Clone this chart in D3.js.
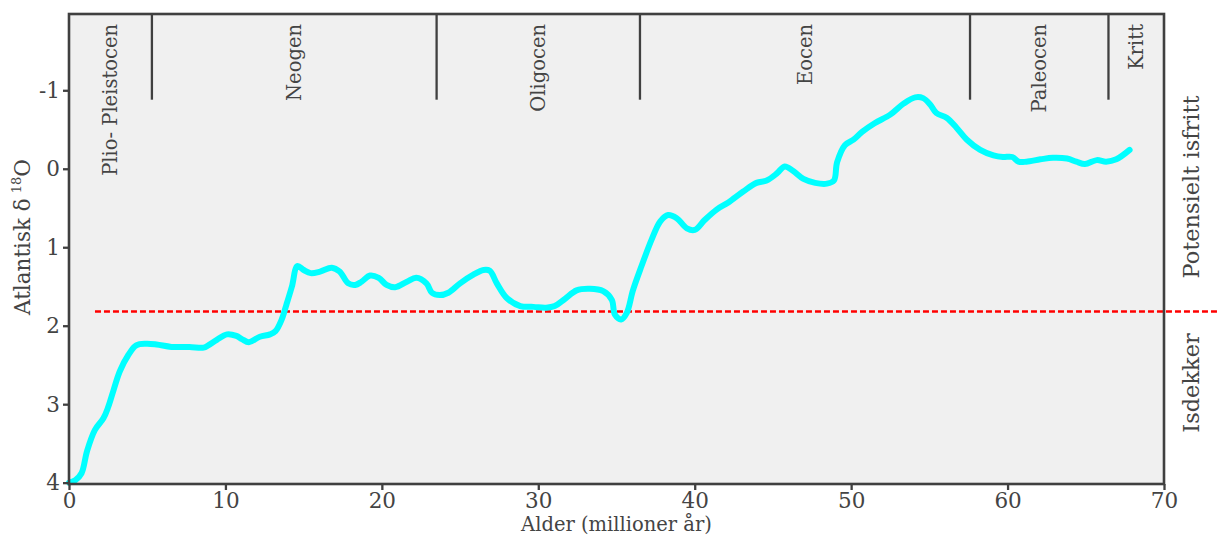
<!DOCTYPE html>
<html>
<head>
<meta charset="utf-8">
<script src="https://cdn.jsdelivr.net/npm/d3@7"></script>
<style>
  html, body { margin: 0; padding: 0; background: #ffffff; }
  svg { display: block; }
  text { font-family: "DejaVu Serif", "Liberation Serif", serif; fill: #444444; }
</style>
</head>
<body>
<svg id="chart" width="1219" height="536"></svg>
<script>
// Atlantic benthic δ18O record over the last ~68 million years
const ages = [0, 0.4, 0.8, 1.15, 1.65, 2.2, 2.5, 2.85, 3.25, 3.8, 4.3, 4.95, 5.6, 6.55, 7.7, 8.6, 8.9, 9.45, 10.1, 10.7,
  11.05, 11.5, 12.2, 12.85, 13.2, 13.6, 13.9, 14.25, 14.6, 15.0, 15.45, 16.05, 16.8, 17.3, 17.85, 18.3, 18.7, 19.25, 19.8, 20.3,
  20.85, 21.6, 22.2, 22.85, 23.2, 23.7, 24.25, 25.0, 25.85, 26.5, 26.9, 27.35, 28.0, 28.85, 29.7, 30.5, 31.05, 31.7, 32.45, 33.3,
  34.15, 34.7, 34.9, 35.3, 35.65, 36.05, 36.6, 37.25, 37.8, 38.3, 38.85, 39.5, 40.0, 40.65, 41.4, 42.15, 43.1, 43.95, 44.6, 45.25,
  45.75, 46.3, 46.95, 47.7, 48.45, 48.9, 49.1, 49.6, 50.15, 50.7, 51.5, 52.5, 53.35, 54.1, 54.6, 55.05, 55.45, 56.1, 56.75, 57.4,
  58.25, 59.1, 59.7, 60.3, 60.7, 61.2, 62.1, 62.9, 63.8, 64.4, 64.95, 65.7, 66.3, 66.95, 67.8];
const d18O = [4.0, 3.97, 3.88, 3.6, 3.33, 3.18, 3.04, 2.82, 2.58, 2.37, 2.25, 2.23, 2.24, 2.27, 2.27, 2.28, 2.25, 2.18, 2.11, 2.13,
  2.17, 2.21, 2.14, 2.11, 2.07, 1.92, 1.73, 1.5, 1.24, 1.29, 1.33, 1.31, 1.26, 1.31, 1.46, 1.48, 1.44, 1.36, 1.39, 1.48,
  1.51, 1.44, 1.39, 1.46, 1.58, 1.61, 1.58, 1.46, 1.35, 1.29, 1.3, 1.46, 1.65, 1.75, 1.76, 1.77, 1.75, 1.66, 1.55, 1.53,
  1.56, 1.67, 1.86, 1.92, 1.84, 1.55, 1.24, 0.9, 0.67, 0.59, 0.63, 0.76, 0.78, 0.65, 0.52, 0.43, 0.29, 0.18, 0.15, 0.06,
  -0.03, 0.03, 0.13, 0.18, 0.19, 0.15, -0.08, -0.3, -0.37, -0.47, -0.58, -0.69, -0.83, -0.91, -0.9, -0.82, -0.71, -0.65, -0.52, -0.37,
  -0.24, -0.17, -0.15, -0.15, -0.09, -0.09, -0.12, -0.14, -0.13, -0.09, -0.06, -0.11, -0.09, -0.12, -0.24];

// Geological epochs: boundary ages (start, end) and names
const eraNames = ["Plio- Pleistocen", "Neogen", "Oligocen", "Eocen", "Paleocen", "Kritt"];
const eraStart = [0, 5.3, 23.5, 36.5, 57.6, 66.45];
const eraEnd = [5.3, 23.5, 36.5, 57.6, 66.45, 70];
const eraDividerBottom = -0.88;

// Ice-sheet threshold line
const iceThreshold = 1.82;
const iceLineStart = 1.66;
const iceLineEnd = 74;

const xTicks = [0, 10, 20, 30, 40, 50, 60, 70];
const yTicks = [-1, 0, 1, 2, 3, 4];

const svg = d3.select("#chart");
const margin = { left: 69, right: 55, top: 14, bottom: 52 };
const W = 1219, H = 536;
const x = d3.scaleLinear().domain([0, 70]).range([margin.left, W - margin.right]);
const y = d3.scaleLinear().domain([4.017, -1.972]).range([H - margin.bottom, margin.top]);

const frameColor = "#404040";

// plot background
svg.append("rect")
  .attr("x", x(0)).attr("y", y(-1.972))
  .attr("width", x(70) - x(0)).attr("height", y(4.017) - y(-1.972))
  .attr("fill", "#f0f0f0");

// epoch dividers
svg.append("g").selectAll("line")
  .data(eraStart.slice(1))
  .join("line")
  .attr("x1", d => x(d)).attr("x2", d => x(d))
  .attr("y1", y(-1.972)).attr("y2", y(eraDividerBottom))
  .attr("stroke", frameColor).attr("stroke-width", 2.3);

// epoch labels
svg.append("g").selectAll("text")
  .data(eraNames)
  .join("text")
  .attr("transform", (d, i) => `translate(${x((eraStart[i] + eraEnd[i]) / 2)},${y(-1.972) + 10}) rotate(-90)`)
  .attr("text-anchor", "end")
  .attr("dy", "0.35em")
  .attr("font-size", 19.5)
  .text(d => d);

// threshold line
svg.append("line")
  .attr("x1", x(iceLineStart)).attr("x2", x(iceLineEnd))
  .attr("y1", y(iceThreshold)).attr("y2", y(iceThreshold))
  .attr("stroke", "#ff0000").attr("stroke-width", 2.5)
  .attr("stroke-dasharray", "6,3");

// δ18O curve
const line = d3.line()
  .x((d, i) => x(ages[i]))
  .y(d => y(d))
  .curve(d3.curveCatmullRom.alpha(0.5));
svg.append("path")
  .attr("d", line(d18O))
  .attr("fill", "none")
  .attr("stroke", "#00ffff")
  .attr("stroke-width", 6)
  .attr("stroke-linejoin", "round")
  .attr("stroke-linecap", "round");

// axes
const xAxis = svg.append("g")
  .attr("transform", `translate(0,${y(4.017)})`)
  .call(d3.axisBottom(x).tickValues(xTicks).tickSize(6).tickPadding(3).tickFormat(d3.format("d")));
const yAxis = svg.append("g")
  .attr("transform", `translate(${x(0)},0)`)
  .call(d3.axisLeft(y).tickValues(yTicks).tickSize(6).tickPadding(3).tickFormat(d => d < 0 ? "-" + Math.abs(d) : d));
[xAxis, yAxis].forEach(g => {
  g.select(".domain").remove();
  g.selectAll(".tick line").attr("stroke", frameColor).attr("stroke-width", 2.3);
  g.selectAll(".tick text").attr("font-size", 21.5).attr("fill", "#444444")
    .style("font-family", "'DejaVu Serif', serif");
});

// frame
svg.append("rect")
  .attr("x", x(0)).attr("y", y(-1.972))
  .attr("width", x(70) - x(0)).attr("height", y(4.017) - y(-1.972))
  .attr("fill", "none").attr("stroke", frameColor).attr("stroke-width", 2.6);

// axis titles
svg.append("text")
  .attr("x", (x(0) + x(70)) / 2).attr("y", 531)
  .attr("text-anchor", "middle").attr("font-size", 19.5)
  .text("Alder (millioner år)");

const yTitle = svg.append("text")
  .attr("transform", `translate(30,${237}) rotate(-90)`)
  .attr("text-anchor", "middle").attr("font-size", 21.5);
yTitle.append("tspan").text("Atlantisk δ");
yTitle.append("tspan").attr("dx", 5).attr("dy", -9).attr("font-size", 13).text("18");
yTitle.append("tspan").attr("dy", 9).text("O");

// regime labels on the right
svg.append("text")
  .attr("transform", `translate(1199,${187}) rotate(-90)`)
  .attr("text-anchor", "middle").attr("font-size", 22.5)
  .text("Potensielt isfritt");
svg.append("text")
  .attr("transform", `translate(1199,${383}) rotate(-90)`)
  .attr("text-anchor", "middle").attr("font-size", 22.5)
  .text("Isdekker");
</script>
</body>
</html>
